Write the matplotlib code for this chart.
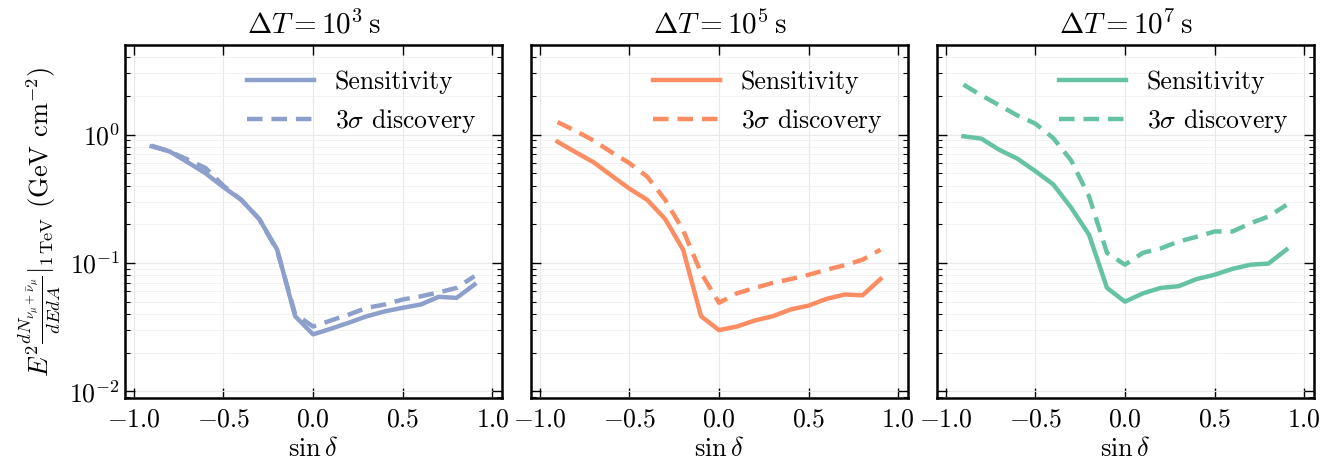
import numpy as np
import matplotlib
matplotlib.use("Agg")
import matplotlib.pyplot as plt

plt.rcParams['font.family'] = 'serif'
plt.rcParams['font.serif'] = ['cmr10']
plt.rcParams['mathtext.fontset'] = 'cm'
plt.rcParams['axes.formatter.use_mathtext'] = True

sin_dec = [-0.9, -0.8, -0.7, -0.6, -0.5, -0.4, -0.3, -0.2, -0.1, 0.0,
           0.1, 0.2, 0.3, 0.4, 0.5, 0.6, 0.7, 0.8, 0.9]

# dT = 1e3 s
sens_1e3 = [0.81, 0.74, 0.61, 0.50, 0.39, 0.31, 0.22, 0.127, 0.0385, 0.0278,
            0.0308, 0.0343, 0.0385, 0.042, 0.0448, 0.0475, 0.0545, 0.0535, 0.068]
disc_1e3 = [0.82, 0.74, 0.64, 0.55, 0.40, 0.31, 0.22, 0.125, 0.040, 0.032,
            0.0357, 0.0397, 0.0448, 0.0475, 0.052, 0.055, 0.059, 0.064, 0.079]

# dT = 1e5 s
sens_1e5 = [0.88, 0.73, 0.61, 0.48, 0.38, 0.31, 0.22, 0.127, 0.0385, 0.030,
            0.032, 0.0357, 0.0385, 0.0435, 0.0466, 0.0526, 0.0568, 0.056, 0.075]
disc_1e5 = [1.25, 1.07, 0.90, 0.73, 0.60, 0.47, 0.31, 0.18, 0.0836, 0.049,
            0.058, 0.064, 0.070, 0.075, 0.081, 0.0887, 0.096, 0.106, 0.127]

# dT = 1e7 s
sens_1e7 = [0.97, 0.93, 0.76, 0.65, 0.52, 0.41, 0.27, 0.166, 0.064, 0.050,
            0.058, 0.064, 0.066, 0.075, 0.081, 0.090, 0.097, 0.099, 0.127]
disc_1e7 = [2.45, 2.02, 1.69, 1.41, 1.22, 0.94, 0.63, 0.33, 0.12, 0.097,
            0.12, 0.13, 0.147, 0.16, 0.176, 0.176, 0.204, 0.23, 0.283]

titles = [r"$\Delta T = 10^3\,\mathrm{s}$", r"$\Delta T = 10^5\,\mathrm{s}$",
          r"$\Delta T = 10^7\,\mathrm{s}$"]
colors = ['#8da0cb', '#fc8d62', '#66c2a5']
sens_all = [sens_1e3, sens_1e5, sens_1e7]
disc_all = [disc_1e3, disc_1e5, disc_1e7]

fig, axes = plt.subplots(1, 3, figsize=(13.41, 4.72), dpi=100, sharey=True)
fig.subplots_adjust(left=0.093, right=0.980, top=0.905, bottom=0.157, wspace=0.075)

for i, ax in enumerate(axes):
    ax.plot(sin_dec, sens_all[i], color=colors[i], lw=3.2, label="Sensitivity")
    ax.plot(sin_dec, disc_all[i], color=colors[i], lw=3.2, ls=(0, (3.5, 2)),
            label=r"$3\sigma$ discovery")
    ax.set_yscale('log')
    ax.set_xlim(-1.05, 1.055)
    ax.set_ylim(0.0089, 5)
    ax.set_xticks([-1.0, -0.5, 0.0, 0.5, 1.0])
    ax.set_xlabel(r"$\sin\delta$", fontsize=19, labelpad=4)
    ax.set_title(titles[i], fontsize=21, pad=8)
    ax.grid(True, which='major', color='#e8e8e8', lw=0.8)
    ax.grid(True, which='minor', axis='y', color='#f0f0f0', lw=0.6)
    ax.tick_params(which='both', direction='in', top=True, right=True, labelsize=18.5)
    ax.tick_params(axis='x', pad=7)
    ax.tick_params(which='major', length=7, width=1)
    ax.tick_params(which='minor', length=3.5, width=0.8)
    for s in ax.spines.values():
        s.set_linewidth(1.8)
    ax.legend(loc='upper right', frameon=False, fontsize=18.5, handlelength=2.6,
              borderaxespad=0.6)

axes[0].set_ylabel(r"$E^2\frac{dN_{\nu_\mu+\bar{\nu}_\mu}}{dEdA}|_{1\,\mathrm{TeV}}$ (GeV cm$^{-2}$)",
                   fontsize=19, labelpad=4)

plt.savefig("out.png", dpi=100)
